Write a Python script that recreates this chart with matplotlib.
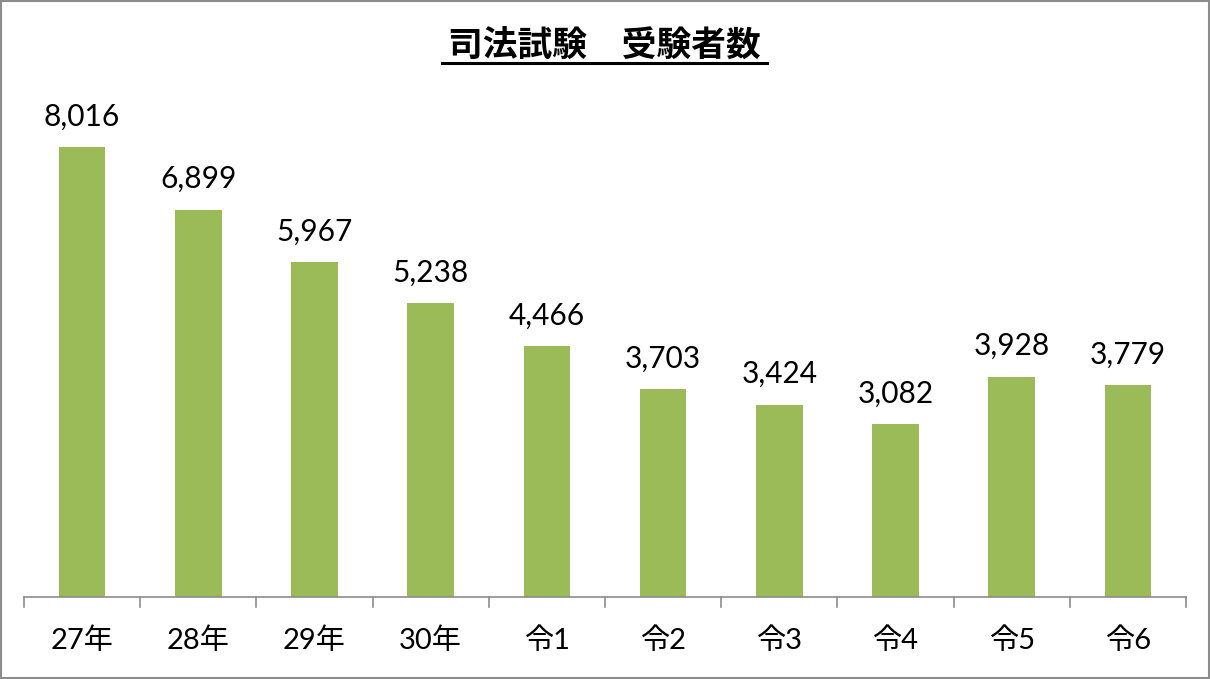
import matplotlib.pyplot as plt
import numpy as np
from matplotlib.patches import Rectangle

plt.rcParams['font.family'] = ['Lato', 'Noto Sans CJK JP', 'DejaVu Sans']

categories = ["27年", "28年", "29年", "30年", "令1", "令2", "令3", "令4", "令5", "令6"]
examinees = [8016, 6899, 5967, 5238, 4466, 3703, 3424, 3082, 3928, 3779]
title = "司法試験　受験者数"

bar_color = "#9BBB59"

fig = plt.figure(figsize=(12.1, 6.79), dpi=100)
ax = fig.add_axes([24 / 1210, (679 - 597) / 679, (1186 - 24) / 1210, (597 - 92) / 679])

x = np.arange(len(categories))
bars = ax.bar(x, examinees, width=0.4, color=bar_color)

for xi, v in zip(x, examinees):
    ax.annotate(f"{v:,}", (xi, v), xytext=(0, 12), textcoords="offset points",
                ha="center", va="bottom", fontsize=21.5)

ax.set_xlim(-0.5, len(categories) - 0.5)
ax.set_ylim(0, 9000)
ax.set_yticks([])
ax.set_xticks(x)
ax.set_xticklabels(categories, fontsize=21)
ax.tick_params(axis="x", length=0, pad=22)
for b in np.arange(-0.5, len(categories), 1.0):
    ax.plot([b, b], [0, -180], color="#8c8c8c", lw=1.2, clip_on=False)

for side in ["top", "right", "left"]:
    ax.spines[side].set_visible(False)
ax.spines["bottom"].set_color("#8c8c8c")
ax.spines["bottom"].set_linewidth(1.2)

t = fig.text(604 / 1210, 1 - 45 / 679, title, ha="center", va="center",
             fontsize=25, fontweight="bold", family=['Noto Sans CJK JP'])
fig.add_artist(plt.Line2D([442 / 1210, 767 / 1210], [1 - 63 / 679, 1 - 63 / 679],
                          color="black", lw=2.2))

fig.add_artist(Rectangle((0.001, 0.001), 0.998, 0.998, transform=fig.transFigure,
                         fill=False, edgecolor="#8c8c8c", lw=1.5))

fig.savefig("out.png", dpi=100)
